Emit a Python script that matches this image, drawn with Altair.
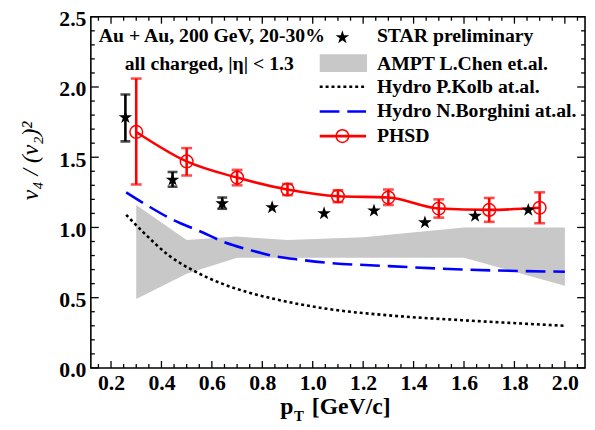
import altair as alt
import pandas as pd

# ---------------- data ----------------
star_x = [0.257, 0.444, 0.641, 0.839, 1.045, 1.243, 1.445, 1.644, 1.855]
star_y = [1.784, 1.339, 1.170, 1.142, 1.100, 1.119, 1.035, 1.081, 1.124]
star_err_x = [0.257, 0.444, 0.641]
star_err_lo = [1.613, 1.290, 1.133]
star_err_hi = [1.947, 1.395, 1.213]

phsd_x = [0.3, 0.5, 0.7, 0.9, 1.1, 1.3, 1.5, 1.7, 1.9]
phsd_y = [1.68, 1.47, 1.355, 1.27, 1.222, 1.213, 1.135, 1.125, 1.14]
phsd_lo = [1.306, 1.37, 1.30, 1.23, 1.18, 1.16, 1.07, 1.04, 1.03]
phsd_hi = [2.06, 1.565, 1.41, 1.31, 1.265, 1.27, 1.20, 1.21, 1.25]

ampt_x = [0.3, 0.5, 0.7, 0.9, 1.2, 1.6, 2.0]
ampt_lo = [0.49, 0.67, 0.785, 0.785, 0.785, 0.785, 0.585]
ampt_hi = [1.16, 0.91, 0.935, 0.91, 0.93, 1.0, 1.0]

kolb_x = [0.26, 0.32, 0.43, 0.53, 0.64, 0.74, 0.85, 0.99, 1.06, 1.33, 1.59, 2.0]
kolb_y = [1.09, 0.98, 0.80, 0.69, 0.60, 0.54, 0.49, 0.44, 0.42, 0.37, 0.34, 0.30]

borg_x = [0.26, 0.35, 0.45, 0.55, 0.65, 0.75, 0.85, 0.95, 1.05, 1.3, 1.6, 2.0]
borg_y = [1.25, 1.15, 1.05, 0.975, 0.895, 0.84, 0.795, 0.77, 0.75, 0.725, 0.70, 0.685]

x_major = [0.2, 0.4, 0.6, 0.8, 1.0, 1.2, 1.4, 1.6, 1.8, 2.0]
x_minor = [round(0.15 + 0.05 * i, 2) for i in range(39)]
x_minor = [v for v in x_minor if v not in x_major]
y_major = [0.0, 0.5, 1.0, 1.5, 2.0, 2.5]
y_minor = [round(0.1 * i, 1) for i in range(26)]
y_minor = [v for v in y_minor if v not in y_major]

W, H = 501, 356
FONT = "Liberation Serif"
STAR = ("M0,-1 L0.2245,-0.309 L0.951,-0.309 L0.363,0.118 L0.588,0.809 L0,0.382 "
        "L-0.588,0.809 L-0.363,0.118 L-0.951,-0.309 L-0.2245,-0.309 Z")

xs = alt.Scale(domain=[0.12, 2.08], nice=False, zero=False)
ys = alt.Scale(domain=[0.0, 2.5], nice=False, zero=False)

one = pd.DataFrame({"a": [0]})

# ---------------- frame axes (labels only) ----------------
base = alt.Chart(pd.DataFrame({"x": [0.12, 2.08], "y": [0.0, 2.5]})).mark_point(opacity=0).encode(
    x=alt.X("x:Q", scale=xs, axis=alt.Axis(values=x_major, format=".1f", title=None, ticks=False,
                                           domain=False, grid=False, labelFont=FONT, labelFontSize=22,
                                           labelFontWeight="bold", labelColor="black", labelPadding=5)),
    y=alt.Y("y:Q", scale=ys, axis=alt.Axis(values=y_major, format=".1f", title=None, ticks=False,
                                           domain=False, grid=False, labelFont=FONT, labelFontSize=22,
                                           labelFontWeight="bold", labelColor="black", labelPadding=5,
                                           labelOffset=2)),
)

def xticks(vals, length):
    d = pd.DataFrame({"v": vals})
    b = alt.Chart(d).mark_rule(color="black", strokeWidth=1.3).encode(
        x=alt.X("v:Q", scale=xs), y=alt.value(H), y2=alt.value(H - length))
    t = alt.Chart(d).mark_rule(color="black", strokeWidth=1.3).encode(
        x=alt.X("v:Q", scale=xs), y=alt.value(0), y2=alt.value(length))
    return [b, t]

def yticks(vals, length):
    d = pd.DataFrame({"v": vals})
    l = alt.Chart(d).mark_rule(color="black", strokeWidth=1.3).encode(
        y=alt.Y("v:Q", scale=ys), x=alt.value(0), x2=alt.value(length))
    r = alt.Chart(d).mark_rule(color="black", strokeWidth=1.3).encode(
        y=alt.Y("v:Q", scale=ys), x=alt.value(W), x2=alt.value(W - length))
    return [l, r]

tick_layers = xticks(x_major, 7) + xticks(x_minor, 4) + yticks(y_major, 8) + yticks(y_minor, 4)

# ---------------- data marks ----------------
ampt = alt.Chart(pd.DataFrame({"x": ampt_x, "lo": ampt_lo, "hi": ampt_hi})).mark_area(
    color="#c8c8c8", opacity=1).encode(
    x=alt.X("x:Q", scale=xs), y=alt.Y("lo:Q", scale=ys), y2="hi:Q")

kolb = alt.Chart(pd.DataFrame({"x": kolb_x, "y": kolb_y})).mark_line(
    color="black", strokeWidth=2.6, strokeDash=[3, 3], interpolate="monotone").encode(
    x=alt.X("x:Q", scale=xs), y=alt.Y("y:Q", scale=ys))

borg = alt.Chart(pd.DataFrame({"x": borg_x, "y": borg_y})).mark_line(
    color="#0000ff", strokeWidth=2.6, strokeDash=[20, 8], interpolate="monotone").encode(
    x=alt.X("x:Q", scale=xs), y=alt.Y("y:Q", scale=ys))

phsd_df = pd.DataFrame({"x": phsd_x, "y": phsd_y, "lo": phsd_lo, "hi": phsd_hi})
phsd_line = alt.Chart(phsd_df).mark_line(color="#ff0000", strokeWidth=2.6, interpolate="monotone").encode(
    x=alt.X("x:Q", scale=xs), y=alt.Y("y:Q", scale=ys))
phsd_err = alt.Chart(phsd_df).mark_rule(color="#ff0000", strokeWidth=2.6).encode(
    x=alt.X("x:Q", scale=xs), y=alt.Y("lo:Q", scale=ys), y2="hi:Q")
phsd_cap_lo = alt.Chart(phsd_df).mark_tick(color="#ff0000", thickness=2.6, size=11, orient="horizontal").encode(
    x=alt.X("x:Q", scale=xs), y=alt.Y("lo:Q", scale=ys))
phsd_cap_hi = alt.Chart(phsd_df).mark_tick(color="#ff0000", thickness=2.6, size=11, orient="horizontal").encode(
    x=alt.X("x:Q", scale=xs), y=alt.Y("hi:Q", scale=ys))
phsd_pts = alt.Chart(phsd_df).mark_point(shape="circle", filled=False, color="#ff0000", size=165,
                                        strokeWidth=1.5, opacity=1).encode(
    x=alt.X("x:Q", scale=xs), y=alt.Y("y:Q", scale=ys))

serr_df = pd.DataFrame({"x": star_err_x, "lo": star_err_lo, "hi": star_err_hi})
star_err = alt.Chart(serr_df).mark_rule(color="black", strokeWidth=2.6).encode(
    x=alt.X("x:Q", scale=xs), y=alt.Y("lo:Q", scale=ys), y2="hi:Q")
star_cap_lo = alt.Chart(serr_df).mark_tick(color="black", thickness=2.6, size=10, orient="horizontal").encode(
    x=alt.X("x:Q", scale=xs), y=alt.Y("lo:Q", scale=ys))
star_cap_hi = alt.Chart(serr_df).mark_tick(color="black", thickness=2.6, size=10, orient="horizontal").encode(
    x=alt.X("x:Q", scale=xs), y=alt.Y("hi:Q", scale=ys))
stars = alt.Chart(pd.DataFrame({"x": star_x, "y": star_y})).mark_point(
    shape=STAR, filled=True, color="black", size=210, opacity=1).encode(
    x=alt.X("x:Q", scale=xs), y=alt.Y("y:Q", scale=ys))

# ---------------- legend & annotations ----------------
def txt(s, x, y, size=20, align="left", weight="bold", style="normal", angle=0, baseline="middle"):
    kw = dict(text=s, font=FONT, fontSize=size, fontWeight=weight, fontStyle=style,
              align=align, baseline=baseline, color="black")
    if angle:
        kw["angle"] = angle
    return alt.Chart(one).mark_text(**kw).encode(x=alt.value(x), y=alt.value(y))

LX = 290
leg = [
    alt.Chart(one).mark_point(shape=STAR, filled=True, color="black", size=210, opacity=1).encode(
        x=alt.value(255), y=alt.value(21)),
    txt("STAR preliminary", LX, 20),
    alt.Chart(one).mark_rect(color="#c8c8c8").encode(
        x=alt.value(232), x2=alt.value(280), y=alt.value(38), y2=alt.value(56)),
    txt("AMPT L.Chen et.al.", LX, 48),
    alt.Chart(one).mark_rule(color="black", strokeWidth=2.6, strokeDash=[3, 3]).encode(
        x=alt.value(232), x2=alt.value(279), y=alt.value(71)),
    txt("Hydro P.Kolb at.al.", LX, 71),
    alt.Chart(one).mark_rule(color="#0000ff", strokeWidth=2.6, strokeDash=[20, 8]).encode(
        x=alt.value(232), x2=alt.value(279), y=alt.value(96)),
    txt("Hydro N.Borghini at.al.", LX, 96),
    alt.Chart(one).mark_rule(color="#ff0000", strokeWidth=2.6).encode(
        x=alt.value(232), x2=alt.value(279), y=alt.value(121)),
    alt.Chart(one).mark_point(shape="circle", filled=False, color="#ff0000", size=165,
                              strokeWidth=1.5, opacity=1).encode(x=alt.value(255), y=alt.value(121)),
    txt("PHSD", LX, 121),
    txt("Au + Au, 200 GeV, 20-30%", 8, 20),
    txt("all charged, |η| < 1.3", 120, 48, align="center"),
    # axis titles
    txt("p", 192, 403, size=24, baseline="alphabetic"),
    txt("T", 206, 410, size=15, baseline="alphabetic"),
    txt("[GeV/c]", 224, 403, size=24, baseline="alphabetic"),
    txt("v₄ / (v₂)²", -61, 186, size=24, weight="normal", style="italic", angle=270),
]

chart = alt.layer(
    base, ampt, kolb, borg, phsd_line, phsd_err, phsd_cap_lo, phsd_cap_hi, phsd_pts,
    star_err, star_cap_lo, star_cap_hi, stars, *tick_layers, *leg
).properties(
    width=W, height=H,
    background="white",
    autosize=alt.AutoSizeParams(type="none"),
    padding={"left": 84, "top": 6, "right": 2, "bottom": 56},
).configure_view(stroke="black", strokeWidth=1.6)

chart.save("out.html", embed_options={"renderer": "svg", "actions": False})
